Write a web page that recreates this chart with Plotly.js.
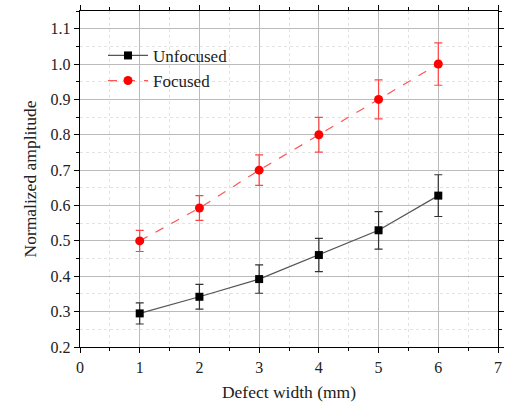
<!DOCTYPE html>
<html><head><meta charset="utf-8">
<script src="https://cdn.plot.ly/plotly-3.0.1.min.js"></script>
<style>html,body{margin:0;padding:0;background:#fff}#c{width:511px;height:402px}</style>
</head><body><div id="c"></div>
<script>
const widths = [1, 2, 3, 4, 5, 6];
const unfocused = [0.295, 0.342, 0.392, 0.46, 0.53, 0.628];
const unfocusedErr = [0.03, 0.035, 0.04, 0.047, 0.053, 0.059];
const focused = [0.5, 0.593, 0.7, 0.8, 0.9, 1.0];
const focusedErr = [0.03, 0.035, 0.043, 0.049, 0.055, 0.06];

const traces = [
  {x: widths, y: unfocused, name: 'Unfocused', type: 'scatter', mode: 'lines+markers',
   line: {color: '#555', width: 1.2}, marker: {symbol: 'square', size: 8, color: '#000'},
   error_y: {type: 'data', array: unfocusedErr, visible: true, color: '#333', thickness: 1.2, width: 4}},
  {x: widths, y: focused, name: 'Focused', type: 'scatter', mode: 'lines+markers',
   line: {color: '#f55', width: 1.2, dash: 'dash'}, marker: {symbol: 'circle', size: 9, color: '#f00'},
   error_y: {type: 'data', array: focusedErr, visible: true, color: '#f44', thickness: 1.2, width: 4}}
];

const font = {family: 'Liberation Serif, Times New Roman, serif', color: '#222'};
const layout = {
  width: 511, height: 402,
  margin: {l: 80, r: 13, t: 11, b: 55},
  paper_bgcolor: '#fff', plot_bgcolor: '#fff',
  font: Object.assign({size: 15}, font),
  showlegend: true,
  legend: {x: 0.055, y: 0.92, xanchor: 'left', yanchor: 'top', bgcolor: 'rgba(0,0,0,0)',
           font: Object.assign({size: 17}, font), tracegroupgap: 0, itemwidth: 40},
  xaxis: {range: [0, 7], dtick: 1, tick0: 0, showline: true, linecolor: '#000', linewidth: 1.3,
          mirror: 'allticks', ticks: 'outside', ticklen: 5, tickcolor: '#000',
          showgrid: true, gridcolor: '#bbb', gridwidth: 1, zeroline: false,
          minor: {dtick: 0.5, ticks: 'outside', ticklen: 3, tickcolor: '#000', showgrid: true, gridcolor: '#e2e2e2', griddash: 'dot'},
          tickfont: Object.assign({size: 16}, font),
          title: {text: 'Defect width (mm)', font: Object.assign({size: 17.5}, font), standoff: 12}},
  yaxis: {range: [0.2, 1.15], dtick: 0.1, tick0: 0.2, tickformat: '.1f', showline: true, linecolor: '#000', linewidth: 1.3,
          mirror: 'allticks', ticks: 'outside', ticklen: 5, tickcolor: '#000',
          showgrid: true, gridcolor: '#bbb', gridwidth: 1, zeroline: false,
          minor: {dtick: 0.05, ticks: 'outside', ticklen: 3, tickcolor: '#000', showgrid: true, gridcolor: '#e2e2e2', griddash: 'dot'},
          tickfont: Object.assign({size: 16}, font),
          title: {text: 'Normalized amplitude', font: Object.assign({size: 17.5}, font), standoff: 9}}
};
Plotly.newPlot('c', traces, layout, {displayModeBar: false, staticPlot: true});
</script></body></html>
